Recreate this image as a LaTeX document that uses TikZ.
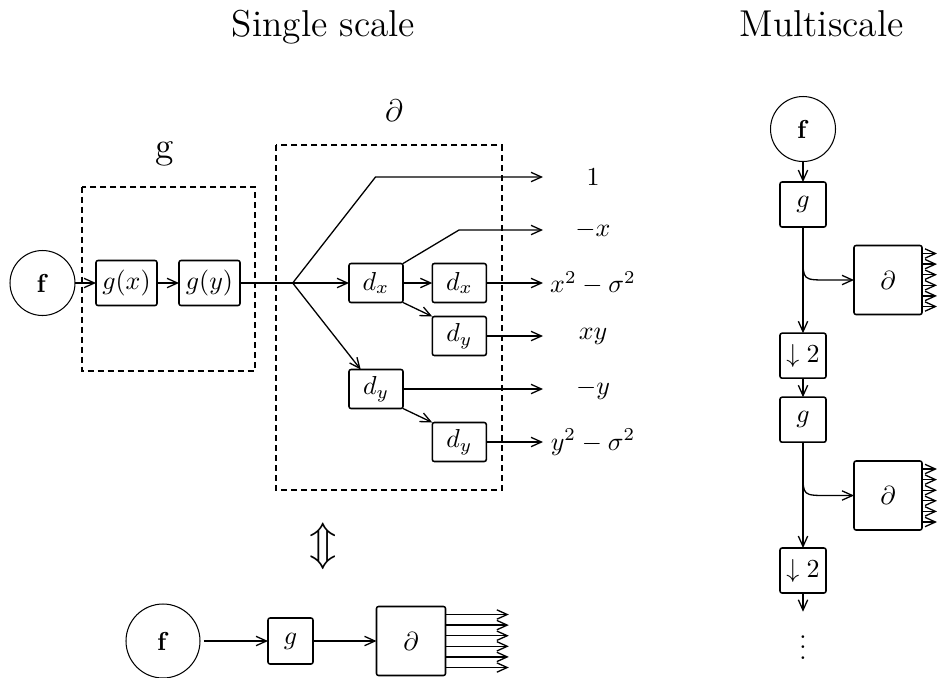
\documentclass[tikz,border=0pt]{standalone}
\usetikzlibrary{calc,arrows.meta}
\begin{document}
\begin{tikzpicture}[x=0.385pt,y=-0.385pt,>={Straight Barb[length=4pt,width=3.6pt]},line width=0.5pt,
  every node/.style={inner sep=0pt,outer sep=0pt},
  src/.style={draw,circle,line width=0.4pt,minimum size={#1*0.385pt}},
  blk/.style={draw,rectangle,line width=0.6pt,rounded corners=0.8pt},
  gbox/.style={blk,minimum width={61*0.385pt},minimum height={45*0.385pt}},
  dbox/.style={blk,minimum width={54*0.385pt},minimum height={39*0.385pt}},
  sbox/.style={blk,minimum width={46*0.385pt},minimum height={45*0.385pt}},
  pbox/.style={blk,minimum width={68*0.385pt},minimum height={69*0.385pt}},
  lab/.style={minimum width={100*0.385pt}},
  dashbox/.style={draw,line width=0.7pt,dash pattern=on 2.3pt off 1.55pt}]
\useasboundingbox (0,0) rectangle (937,677);

% titles
\node[anchor=base,font=\Large] (t1) at (323.5,36) {Single scale};
\node[anchor=base,font=\Large] (t2) at (821.5,36) {Multiscale};

% ---- single scale, expanded ----
\draw[dashbox] (81.7,186.7) rectangle (255,370.7);
\draw[dashbox] (276,145) rectangle (501.7,490);
\node[anchor=base,font=\Large] (lg) at (165,158) {g};
\node[anchor=base,font=\large] (lp) at (394,121) {$\partial$};

\node[src=65] (f1) at (42.5,283) {$\mathbf{f}$};
\node[gbox] (gx) at (126.5,283) {$g(x)$};
\node[gbox] (gy) at (209.5,283) {$g(y)$};
\coordinate (bp) at (292.7,283);
\node[dbox] (dx1) at (376,283) {$d_x$};
\node[dbox] (dx2) at (459.3,283) {$d_x$};
\node[dbox] (dy2) at (459.3,336) {$d_y$};
\node[dbox] (dy1) at (376,389) {$d_y$};
\node[dbox] (dy3) at (459.3,442) {$d_y$};
\coordinate (k1) at (375.5,177);
\coordinate (k2) at (459,230);

\node[lab] (l1) at (593,177) {$1$};
\node[lab] (l2) at (593,230) {$-x$};
\node[lab] (l3) at (593,283) {$x^2-\sigma^2$};
\node[lab] (l4) at (593,336) {$xy$};
\node[lab] (l5) at (593,389) {$-y$};
\node[lab] (l6) at (593,442) {$y^2-\sigma^2$};

\draw[->] (f1) -- (gx);
\draw[->] (gx) -- (gy);
\draw (gy) -- (bp);
\draw[->] (bp) -- (dx1);
\draw[->] (bp) -- (dy1);
\draw[->] (bp) -- (k1) -- (l1);
\draw[->] (dx1.north east) -- (k2) -- (l2);
\draw[->] (dx1) -- (dx2);
\draw[->] (dx1.south east) -- (dy2.north west);
\draw[->] (dy1.south east) -- (dy3.north west);
\draw[->] (dx2) -- (l3);
\draw[->] (dy2) -- (l4);
\draw[->] (dy1) -- (l5);
\draw[->] (dy3) -- (l6);

% ---- single scale, compact ----
\node[font=\LARGE] (eqv) at (323,546) {$\Updownarrow$};
\node[src=74] (f2) at (163,641) {$\mathbf{f}$};
\node[blk,minimum width={45*0.385pt},minimum height={46*0.385pt}] (gb) at (290.5,641) {$g$};
\node[blk,minimum width={69*0.385pt},minimum height={69*0.385pt}] (pb) at (411,641) {$\partial$};
\draw[->,shorten <=1.5pt] (f2) -- (gb);
\draw[->] (gb) -- (pb);
\foreach \o in {-26.5,-15.9,-5.3,5.3,15.9,26.5}
  \draw[->] ($(pb.east)+(0,\o)$) -- ++(63.3,0);

% ---- multiscale ----
\node[src=65] (f3) at (803,129) {$\mathbf{f}$};
\node[sbox] (g1) at (803,204.5) {$g$};
\node[pbox] (p1) at (888,280) {$\partial$};
\node[sbox] (s1) at (803,355.7) {$\downarrow 2$};
\node[sbox] (g2) at (803,419.7) {$g$};
\node[pbox] (p2) at (888,495.5) {$\partial$};
\node[sbox] (s2) at (803,570.5) {$\downarrow 2$};
\coordinate (tail) at (803,611.7);
\node[anchor=base] (dots) at (803,659) {$\vdots$};
\coordinate (b1) at (803,257);
\coordinate (b2) at (803,473);

\draw[->] (f3) -- (g1);
\draw[->] (g1) -- (s1);
\draw[->] (s1) -- (g2);
\draw[->] (g2) -- (s2);
\draw[->] (s2) -- (tail);
\draw[->] (b1) .. controls (803,280) .. (828,280) -- (p1);
\draw[->] (b2) .. controls (803,495.5) .. (828,495.5) -- (p2);
\foreach \o in {-26.5,-15.9,-5.3,5.3,15.9,26.5}{
  \draw[->] ($(p1.east)+(0,\o)$) -- ++(15,0);
  \draw[->] ($(p2.east)+(0,\o)$) -- ++(15,0);
}
\end{tikzpicture}
\end{document}
